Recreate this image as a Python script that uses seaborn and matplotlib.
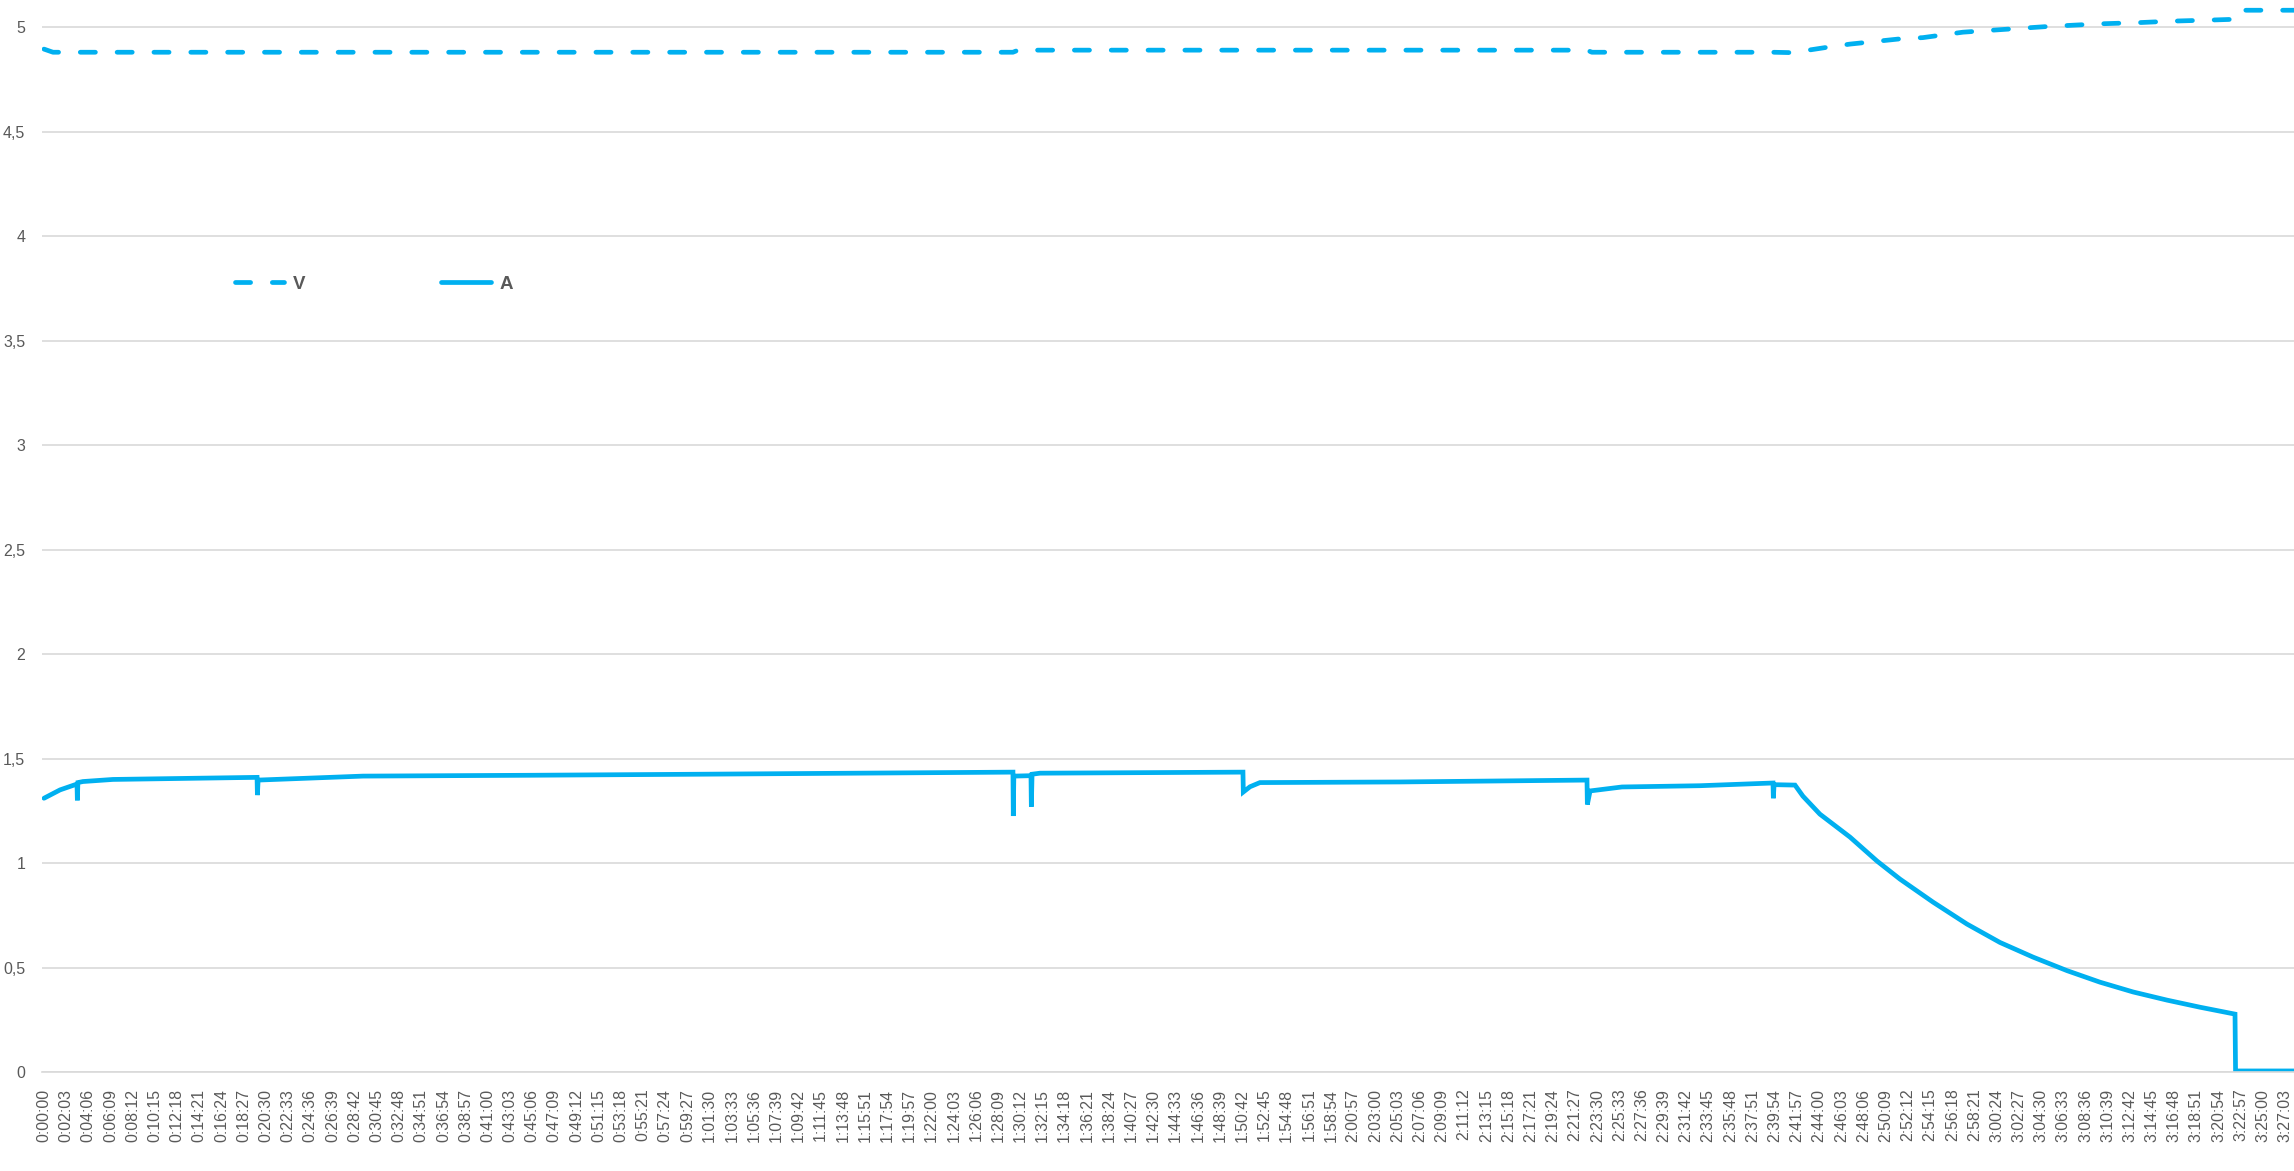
import numpy as np
import pandas as pd
import matplotlib
matplotlib.use("Agg")
import matplotlib.pyplot as plt
import seaborn as sns

# ---- data (time in seconds) ----
a_time = [0, 89, 183, 185, 188, 216, 382, 1181, 1183, 1187, 1768, 2694, 3636,
          5371, 5373, 5376, 5471, 5473, 5477, 5521, 6646, 6648, 6685, 6740,
          7516, 8553, 8555, 8570, 8747, 9179, 9584, 9586, 9590, 9706, 9750,
          9844, 10011, 10160, 10288, 10471, 10659, 10842, 11025, 11214, 11396,
          11580, 11768, 11951, 12145, 12148, 12472]
a_vals = [1.31, 1.35, 1.378, 1.30, 1.385, 1.39, 1.40, 1.41, 1.325, 1.397, 1.416,
          1.42, 1.425, 1.435, 1.225, 1.416, 1.418, 1.27, 1.425, 1.43, 1.435,
          1.34, 1.365, 1.385, 1.388, 1.397, 1.28, 1.345, 1.364, 1.37, 1.383,
          1.31, 1.375, 1.373, 1.32, 1.234, 1.124, 1.01, 0.923, 0.813, 0.708,
          0.62, 0.55, 0.485, 0.43, 0.383, 0.344, 0.31, 0.277, 0.005, 0.005]

v_time = [0, 50, 5371, 5400, 8553, 8580, 9584, 9689, 9894, 10011, 10288, 10415,
          10637, 10825, 11103, 11396, 11618, 11801, 12045, 12117, 12148, 12472]
v_vals = [4.895, 4.88, 4.88, 4.89, 4.89, 4.88, 4.88, 4.878, 4.905, 4.919, 4.944,
          4.95, 4.976, 4.987, 5.003, 5.016, 5.022, 5.029, 5.035, 5.037, 5.081,
          5.081]

tick_step = 123
tick_end = 12423
y_ticks = [0, 0.5, 1, 1.5, 2, 2.5, 3, 3.5, 4, 4.5, 5]

series_names = ["V", "A"]

# ---- style ----
sns.set_style("white")
plt.rcParams["font.family"] = ["Liberation Sans", "DejaVu Sans"]

BLUE = "#00B0F0"
GRID = "#D9D9D9"
TXT = "#595959"

W, H = 2294, 1171
fig = plt.figure(figsize=(W / 100, H / 100), dpi=100)
ax_left = 42 / W
ax_bottom = (H - 1072) / H
ax = fig.add_axes([ax_left, ax_bottom, 1 - ax_left, 1072 / H])

df_v = pd.DataFrame({"t": v_time, "val": v_vals})
df_a = pd.DataFrame({"t": a_time, "val": a_vals})

lw = 3.4
sns.lineplot(data=df_v, x="t", y="val", ax=ax, color=BLUE, linewidth=lw,
             estimator=None, sort=False, label=series_names[0])
line_v = ax.lines[-1]
line_v.set_dashes((3.2, 4.6))
line_v.set_dash_capstyle("round")
sns.lineplot(data=df_a, x="t", y="val", ax=ax, color=BLUE, linewidth=lw,
             estimator=None, sort=False, label=series_names[1])
line_a = ax.lines[-1]
line_a.set_solid_joinstyle("miter")

ax.set_xlim(-11, 12472)
ax.set_ylim(0, 5.13)

# grid
ax.set_yticks(y_ticks)
ax.set_yticklabels([("%g" % v).replace(".", ",") for v in y_ticks],
                   fontsize=11.5, color=TXT)
ax.yaxis.grid(True, color=GRID, linewidth=1.2)
ax.xaxis.grid(False)
ax.set_axisbelow(True)

xt = np.arange(0, tick_end + 1, tick_step)
labels = ["%d:%02d:%02d" % (s // 3600, (s % 3600) // 60, s % 60) for s in xt]
ax.set_xticks(xt)
ax.set_xticklabels(labels, rotation=90, fontsize=11.4, color=TXT)
ax.tick_params(axis="both", length=0)
ax.tick_params(axis="x", pad=12)
ax.tick_params(axis="y", pad=12)

for s in ["top", "right", "left"]:
    ax.spines[s].set_visible(False)
ax.spines["bottom"].set_color(GRID)
ax.spines["bottom"].set_linewidth(1.2)

ax.set_xlabel("")
ax.set_ylabel("")

leg = ax.legend(loc="center left", bbox_to_anchor=(0.0855, 0.735), ncol=2,
                frameon=False, handlelength=2.65, handletextpad=0.45,
                columnspacing=7.25, borderpad=0, borderaxespad=0,
                prop={"size": 13.5, "weight": "bold"})
for t in leg.get_texts():
    t.set_color(TXT)

fig.savefig("out.png", dpi=100)
